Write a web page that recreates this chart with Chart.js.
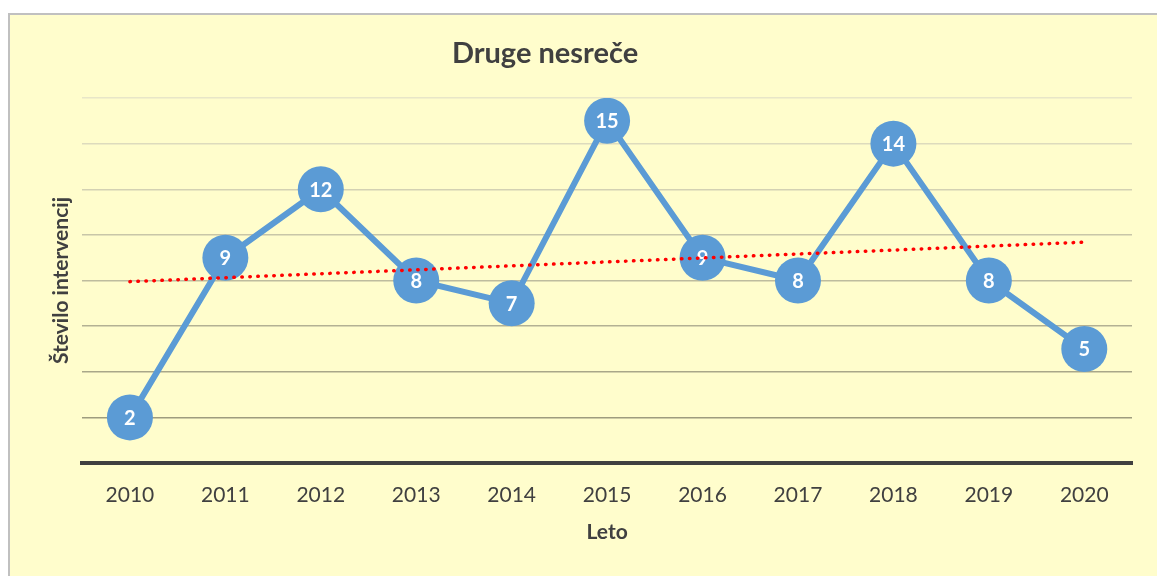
<!DOCTYPE html>
<html>
<head>
<meta charset="utf-8">
<title>Druge nesreče</title>
<script src="https://cdn.jsdelivr.net/npm/chart.js@4/dist/chart.umd.min.js"></script>
<style>
    html, body { margin: 0; padding: 0; background: #ffffff; overflow: hidden; }
    #box {
        position: absolute; left: 8px; top: 13px; width: 1149px; height: 563px;
        background: #fffdcc; border-top: 2px solid #c0c0c0; border-left: 2px solid #c0c0c0;
    }
    #chart { display: block; }
</style>
</head>
<body>
<div id="box"><canvas id="chart" width="1147" height="561"></canvas></div>
<script>
// data
const years = ['2010', '2011', '2012', '2013', '2014', '2015', '2016', '2017', '2018', '2019', '2020']
const interventions = [2, 9, 12, 8, 7, 15, 9, 8, 14, 8, 5]
// linear trend line (only the two ends are shown)
const trend = [7.95, null, null, null, null, null, null, null, null, null, 9.68]

const textColor = '#404040'
const blue = '#5b9bd5'

// grid lines go lighter towards the top
function gridColor(ctx) {
    const v = ctx.tick ? ctx.tick.value : 0
    const t = Math.min(Math.max((v - 2) / 14, 0), 1)
    const mix = (a, b) => Math.round(a + (b - a) * t)
    return 'rgb(' + mix(158, 232) + ',' + mix(156, 230) + ',' + mix(126, 200) + ')'
}

// chart title and x axis title drawn by hand so they sit where the original has them
const titlePlugin = {
    id: 'titlePlugin',
    afterDraw(chart) {
        const ctx = chart.ctx
        const area = chart.chartArea
        ctx.save()
        ctx.fillStyle = textColor
        ctx.textAlign = 'center'
        ctx.textBaseline = 'alphabetic'
        ctx.font = 'bold 29px Lato'
        ctx.fillText('Druge nesreče', 535, 48)
        ctx.textBaseline = 'middle'
        ctx.font = 'bold 21px Lato'
        ctx.fillText('Leto', (area.left + area.right) / 2, 517)
        ctx.restore()
    }
}

// white numbers inside the markers
const pointLabels = {
    id: 'pointLabels',
    afterDatasetDraw(chart, args) {
        if (args.index !== 0) return
        const ctx = chart.ctx
        const meta = chart.getDatasetMeta(0)
        ctx.save()
        ctx.font = 'bold 20px Lato'
        ctx.fillStyle = '#ffffff'
        ctx.textAlign = 'center'
        ctx.textBaseline = 'middle'
        meta.data.forEach((pt, i) => {
            ctx.fillText(String(interventions[i]), pt.x, pt.y + 1)
        })
        ctx.restore()
    }
}

const ctx = document.getElementById('chart').getContext('2d')
new Chart(ctx, {
    type: 'line',
    data: {
        labels: years,
        datasets: [{
            label: 'Druge nesreče',
            data: interventions,
            order: 1,
            borderColor: blue,
            borderWidth: 6,
            pointRadius: 23,
            pointHoverRadius: 23,
            pointBackgroundColor: blue,
            pointBorderWidth: 0,
            tension: 0
        }, {
            label: 'Trend',
            data: trend,
            order: 0,
            spanGaps: true,
            borderColor: '#ff0000',
            borderWidth: 3.5,
            borderDash: [0.5, 7.5],
            borderCapStyle: 'round',
            pointRadius: 0,
            pointHoverRadius: 0
        }]
    },
    options: {
        responsive: false,
        animation: false,
        devicePixelRatio: 1,
        layout: { padding: { left: 39, right: 25, top: 83, bottom: 0 } },
        plugins: {
            legend: { display: false },
            tooltip: { enabled: false },
            title: { display: false }
        },
        scales: {
            x: {
                offset: true,
                afterFit: (scale) => { scale.height = 113 },
                grid: { display: false, drawTicks: false },
                border: { display: true, color: '#404040', width: 4 },
                ticks: { color: textColor, padding: 20, font: { family: 'Lato', size: 21 } }
            },
            y: {
                min: 0,
                max: 16,
                ticks: { display: false, stepSize: 2 },
                border: { display: false },
                grid: { color: gridColor, lineWidth: 1.5, drawTicks: false },
                title: {
                    display: true, text: 'Število intervencij', color: textColor,
                    padding: { top: 0, bottom: 8 },
                    font: { family: 'Lato', size: 21, weight: 'bold' }
                }
            }
        }
    },
    plugins: [pointLabels, titlePlugin]
})
</script>
</body>
</html>
